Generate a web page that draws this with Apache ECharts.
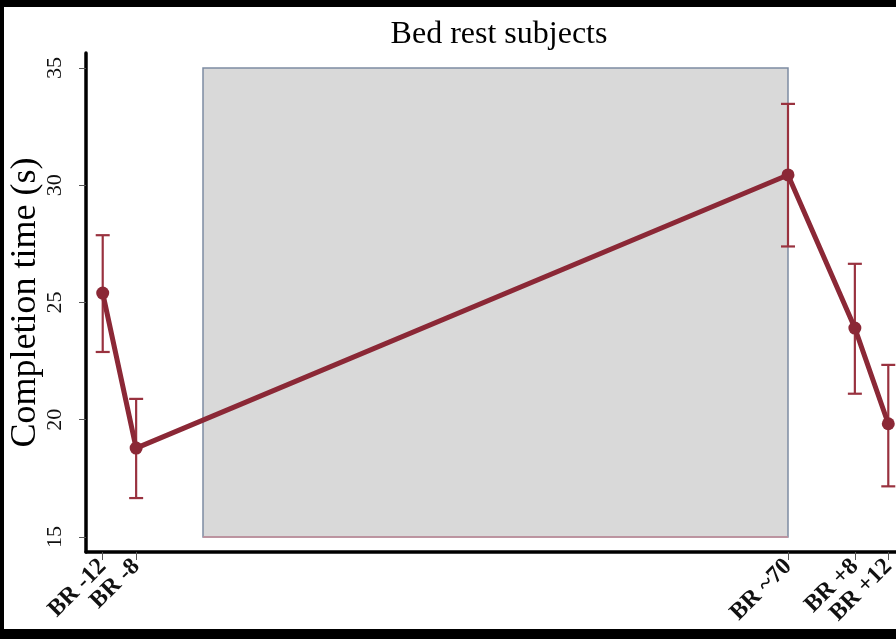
<!DOCTYPE html>
<html>
<head>
<meta charset="utf-8">
<style>
  html, body { margin: 0; padding: 0; background: #000; }
  #chart { width: 896px; height: 639px; }
</style>
<script src="https://cdn.jsdelivr.net/npm/echarts@6/dist/echarts.min.js"></script>
</head>
<body>
<div id="chart"></div>
<script>
// ---- data ----
const days = [-12, -8, 70, 78, 82];
const dayLabels = ['BR -12', 'BR -8', 'BR ~70', 'BR +8', 'BR +12'];
const means = [25.40, 18.79, 30.44, 23.91, 19.83];
const upper = [27.87, 20.89, 33.47, 26.65, 22.34];
const lower = [22.89, 16.66, 27.39, 21.11, 17.16];
const bedRest = [0, 70];
const bedRestRange = [15, 35];
const yTicks = [15, 20, 25, 30, 35];

const lineColor = '#8b2836';
const serif = '"Liberation Serif", "Times New Roman", serif';

const chart = echarts.init(document.getElementById('chart'));

const labelMap = {};
days.forEach((d, i) => { labelMap[d] = dayLabels[i]; });

// labels split into groups so that neighbouring rotated labels are not dropped
const labelGroups = [
  [days[0], days[2], days[4]],
  [days[1], days[3]]
];

const errData = days.map((d, i) => [d, lower[i], upper[i]]);

function makeXAxis(vals, primary) {
  return {
    type: 'value', min: -14, max: 84, position: 'bottom', gridIndex: 0,
    splitLine: { show: false },
    axisLine: { show: primary, onZero: false, lineStyle: { color: '#000', width: 3.5 } },
    axisTick: { show: true, customValues: vals, length: 8, lineStyle: { color: '#555', width: 1 } },
    axisLabel: {
      customValues: vals, rotate: 45, margin: 11,
      showMinLabel: true, showMaxLabel: true, hideOverlap: false,
      formatter: v => labelMap[v] || '',
      fontFamily: serif, fontSize: 24, fontWeight: 'bold', color: '#111'
    }
  };
}

chart.setOption({
  backgroundColor: '#000',
  animation: false,
  graphic: [{
    type: 'rect', z: -100, silent: true,
    shape: { x: 4, y: 7, width: 892, height: 622 },
    style: { fill: '#fff' }
  }],
  title: {
    text: 'Bed rest subjects',
    left: 494, textAlign: 'center', top: 14,
    textStyle: { fontFamily: serif, fontSize: 32, fontWeight: 'normal', color: '#000' }
  },
  grid: { left: 86, right: -9, top: 53, bottom: 87, containLabel: false, outerBoundsMode: 'none' },
  xAxis: [makeXAxis(labelGroups[0], true), makeXAxis(labelGroups[1], false)],
  yAxis: {
    type: 'value', min: 14.36, max: 35.64,
    name: 'Completion time (s)', nameLocation: 'middle', nameGap: 42, nameMoveOverlap: false,
    nameTextStyle: { fontFamily: serif, fontSize: 36, color: '#000' },
    splitLine: { show: false },
    axisLine: { show: true, onZero: false, lineStyle: { color: '#000', width: 3.5 } },
    axisTick: { show: true, customValues: yTicks, length: 7, lineStyle: { color: '#555', width: 1 } },
    axisLabel: {
      customValues: yTicks, rotate: 90, margin: 20,
      showMinLabel: true, showMaxLabel: true,
      fontFamily: serif, fontSize: 22, color: '#111'
    }
  },
  series: [
    {
      type: 'line',
      xAxisIndex: 0,
      data: days.map((d, i) => [d, means[i]]),
      z: 5,
      symbol: 'circle', symbolSize: 13,
      lineStyle: { color: lineColor, width: 5 },
      itemStyle: { color: lineColor },
      markArea: {
        silent: true,
        itemStyle: { color: '#d9d9d9', borderColor: '#7d8ca3', borderWidth: 1.5 },
        data: [[{ xAxis: bedRest[0], yAxis: bedRestRange[0] }, { xAxis: bedRest[1], yAxis: bedRestRange[1] }]]
      },
      markLine: {
        silent: true, symbol: 'none', label: { show: false },
        lineStyle: { color: '#c98f9a', width: 1.5, type: 'solid' },
        data: [[{ coord: [bedRest[0], bedRestRange[0]] }, { coord: [bedRest[1], bedRestRange[0]] }]]
      }
    },
    {
      type: 'custom',
      xAxisIndex: 0,
      z: 4,
      data: errData,
      renderItem: function (params, api) {
        const x = api.value(0);
        const lo = api.coord([x, api.value(1)]);
        const hi = api.coord([x, api.value(2)]);
        const hw = 7;
        const style = { stroke: '#99323f', lineWidth: 2.2 };
        return {
          type: 'group',
          children: [
            { type: 'line', shape: { x1: lo[0], y1: lo[1], x2: hi[0], y2: hi[1] }, style },
            { type: 'line', shape: { x1: hi[0] - hw, y1: hi[1], x2: hi[0] + hw, y2: hi[1] }, style },
            { type: 'line', shape: { x1: lo[0] - hw, y1: lo[1], x2: lo[0] + hw, y2: lo[1] }, style }
          ]
        };
      }
    }
  ]
});
</script>
</body>
</html>
